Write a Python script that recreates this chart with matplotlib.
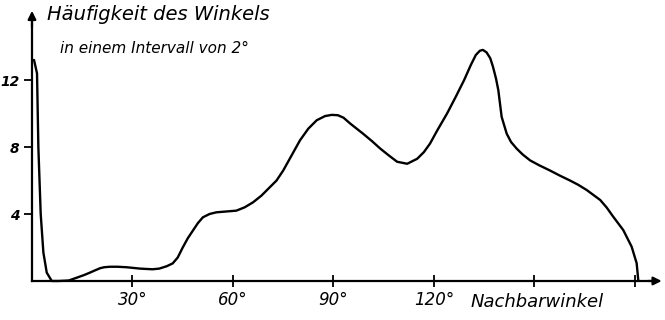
import matplotlib
matplotlib.use('Agg')
import matplotlib.pyplot as plt

# Häufigkeit des Nachbarwinkels
winkel = [0.6, 1.5, 1.9, 2.6, 3.4, 4.4, 5.9, 8, 11, 13.4, 15.5, 17.3, 19, 20.3,
          21.5, 23.3, 25.5, 28.3, 32.2, 34, 36, 38, 40.2, 42, 43.5, 45, 46.5, 48,
          49.5, 51, 53, 55, 58, 61, 63.5, 66, 68.5, 71, 73, 75, 77.5, 80, 82.5, 85,
          87.5, 89.5, 91.3, 93, 95, 98.8, 101.5, 104, 106.5, 109, 112, 115, 117,
          118.8, 121, 123.9, 126.5, 129, 131, 132.5, 133.7, 134.6, 135.7, 136.8,
          137.6, 138.5, 139.2, 140.2, 141.7, 143, 144.7, 146.5, 148.7, 151.5,
          154.6, 157.5, 160.6, 163, 165.6, 169.6, 171.5, 173.5, 176.5, 179,
          180.5, 181]
haeufigkeit = [13.2, 12.4, 8, 4, 1.7, 0.5, 0, 0, 0.03, 0.2, 0.35, 0.5, 0.65, 0.76,
               0.82, 0.85, 0.85, 0.82, 0.74, 0.72, 0.7, 0.74, 0.88, 1.05, 1.4, 2.0,
               2.55, 3.0, 3.45, 3.8, 4.0, 4.1, 4.15, 4.2, 4.4, 4.7, 5.1, 5.6, 6.0,
               6.6, 7.5, 8.4, 9.1, 9.6, 9.85, 9.92, 9.9, 9.75, 9.4, 8.8, 8.35, 7.9,
               7.5, 7.12, 7.0, 7.3, 7.7, 8.2, 9.0, 10.0, 11.0, 12.0, 12.9, 13.5,
               13.75, 13.8, 13.65, 13.3, 12.8, 12.1, 11.4, 9.8, 8.8, 8.3, 7.9, 7.55,
               7.2, 6.9, 6.6, 6.3, 6.0, 5.75, 5.43, 4.84, 4.4, 3.84, 3.04, 2.05,
               1.06, 0]

x_ticks = [30, 60, 90, 120, 150, 180]
x_labels = ['30°', '60°', '90°', '120°', '', '']
y_ticks = [4, 8, 12]
y_labels = ['4', '8', '12']

fig = plt.figure(figsize=(6.65, 3.2), dpi=100)
ax = fig.add_axes([0, 0, 1, 1])
ax.set_xlim(-9.55, 188.96)
ax.set_ylim(-2.33, 16.78)

ax.plot(winkel, haeufigkeit, color='black', lw=1.7, solid_joinstyle='round',
        solid_capstyle='round')

# Achsen
for s in ['top', 'right']:
    ax.spines[s].set_visible(False)
ax.spines['left'].set_position(('data', 0))
ax.spines['bottom'].set_position(('data', 0))
ax.spines['left'].set_bounds(0, 15.5)
ax.spines['bottom'].set_bounds(0, 185)
ax.spines['left'].set_linewidth(1.6)
ax.spines['bottom'].set_linewidth(1.6)
ax.annotate('', xy=(0, 16.3), xytext=(0, 15.0),
            arrowprops=dict(arrowstyle='-|>', color='black', lw=1.6, mutation_scale=12))
ax.annotate('', xy=(188.8, 0), xytext=(183, 0),
            arrowprops=dict(arrowstyle='-|>', color='black', lw=1.6, mutation_scale=12))

ax.set_xticks(x_ticks)
ax.set_xticklabels(x_labels, fontsize=12, style='italic')
ax.set_yticks(y_ticks)
ax.set_yticklabels(y_labels, fontsize=10, style='italic', fontweight='bold')
ax.tick_params(axis='x', direction='inout', length=9, width=1.3, pad=3)
ax.tick_params(axis='y', direction='out', length=6, width=1.3, pad=3)

ax.text(4.5, 15.9, 'Häufigkeit des Winkels', fontsize=14, style='italic', va='center', ha='left')
ax.text(8.5, 13.9, 'in einem Intervall von 2°', fontsize=11, style='italic', va='center', ha='left')
ax.text(131, -1.25, 'Nachbarwinkel', fontsize=13, style='italic', va='center', ha='left')

plt.savefig('out.png', dpi=100)
